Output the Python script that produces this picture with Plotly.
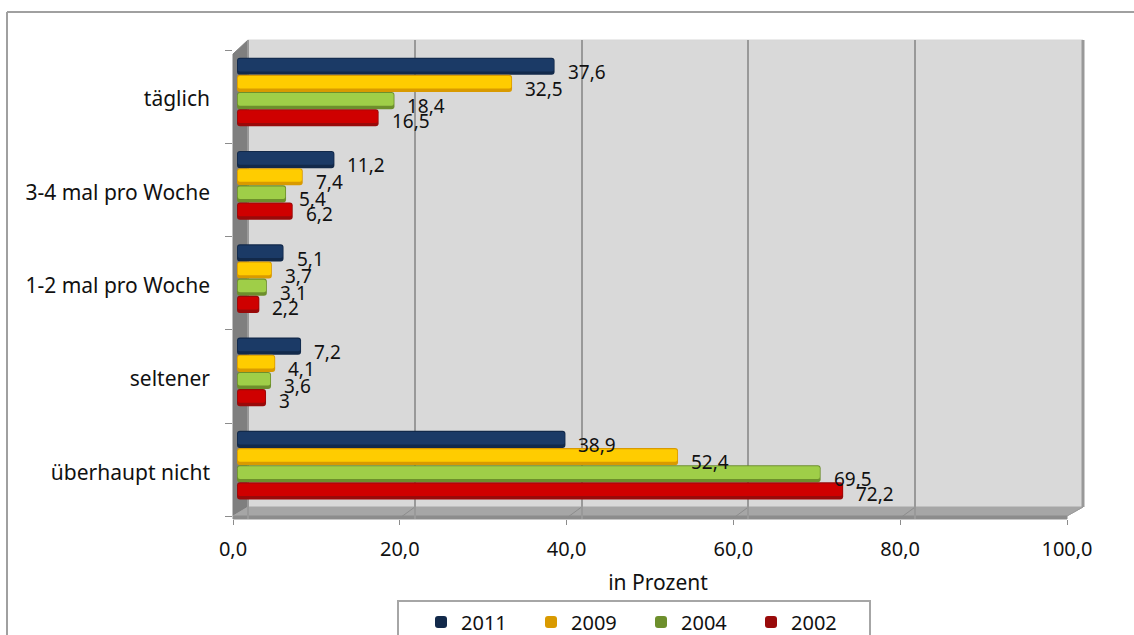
import plotly.graph_objects as go

categories = ["täglich", "3-4 mal pro Woche", "1-2 mal pro Woche", "seltener", "überhaupt nicht"]
years = ["2011", "2009", "2004", "2002"]
v2011 = [37.6, 11.2, 5.1, 7.2, 38.9]
v2009 = [32.5, 7.4, 3.7, 4.1, 52.4]
v2004 = [18.4, 5.4, 3.1, 3.6, 69.5]
v2002 = [16.5, 6.2, 2.2, 3.0, 72.2]
label2011 = ["37,6", "11,2", "5,1", "7,2", "38,9"]
label2009 = ["32,5", "7,4", "3,7", "4,1", "52,4"]
label2004 = ["18,4", "5,4", "3,1", "3,6", "69,5"]
label2002 = ["16,5", "6,2", "2,2", "3", "72,2"]
x_ticks = [0, 20, 40, 60, 80, 100]
x_ticktext = ["0,0", "20,0", "40,0", "60,0", "80,0", "100,0"]

values = [v2011, v2009, v2004, v2002]
labels = [label2011, label2009, label2004, label2002]
dark = ["#12294a", "#d99a00", "#6d8f2c", "#990a0a"]
light = ["#1b3a66", "#ffcc00", "#9fce48", "#cf0000"]
FONT = "Noto Sans"
FS = 19
W, H = 1134, 635
L, R, T, B = 233, 1083, 40, 519      # plot box in pixels
SCALE = 8.34                         # pixels per percent
STEP = 93.3                          # pixels per category


def px(x):
    return x / W


def py(y):
    return 1 - y / H


def poly(points, fill, line=None):
    path = "M " + " L ".join(f"{px(x):.5f},{py(y):.5f}" for x, y in points) + " Z"
    return dict(type="path", xref="paper", yref="paper", path=path, fillcolor=fill,
                line=dict(color=line or fill, width=1), layer="below")


fig = go.Figure()
BAR_OFF = [-0.368, -0.184, 0.0, 0.184]
for i, year in enumerate(years):
    shown = [v + 0.48 for v in values[i]]
    fig.add_bar(name=year, y=categories, x=shown, base=-0.48, orientation="h",
                offset=BAR_OFF[i], width=0.184, marker=dict(color=dark[i], line=dict(width=0), cornerradius=3),
                hoverinfo="skip", xaxis="x", yaxis="y", showlegend=True)
    fig.add_bar(y=categories, x=[v + 0.28 for v in values[i]], base=-0.38, orientation="h",
                offset=BAR_OFF[i] + 0.012, width=0.135, marker=dict(color=light[i], line=dict(width=0), cornerradius=2),
                hoverinfo="skip", xaxis="x", yaxis="y", showlegend=False)

# helper traces so that the tick axis and the back-wall grid axis are drawn
fig.add_scatter(x=x_ticks, y=[0] * 6, xaxis="x2", yaxis="y2", mode="markers", marker=dict(opacity=0), showlegend=False, hoverinfo="skip")
fig.add_scatter(x=x_ticks, y=[0] * 6, xaxis="x3", yaxis="y2", mode="markers", marker=dict(opacity=0), showlegend=False, hoverinfo="skip")

LABEL_DY = [-20, -3, 14, 29]
annotations = []
for i in range(4):
    for j, c in enumerate(categories):
        annotations.append(dict(x=values[i][j], y=c, xref="x", yref="y", text=labels[i][j], showarrow=False,
                                xanchor="left", yanchor="middle", xshift=11, yshift=-LABEL_DY[i],
                                font=dict(family=FONT, size=FS, color="#111111")))


def line(x0, y0, x1, y1, color, width):
    return dict(type="line", xref="paper", yref="paper", x0=px(x0), x1=px(x1), y0=py(y0), y1=py(y1),
                line=dict(color=color, width=width), layer="below")


shapes = [
    line(7, 12, 1134, 12, "#a0a0a0", 2),
    line(7, 12, 7, 635, "#a0a0a0", 2),
    poly([(248, T), (R, T), (R, 507), (248, 507)], "#d9d9d9"),
    poly([(233, 54), (248, T), (248, 507), (233, 516)], "#7f7f7f"),
    poly([(233, 516), (248, 507), (R, 507), (1067, 516)], "#a6a6a6"),
    poly([(233, 516), (1067, 516), (1067, 519), (233, 519)], "#8c8c8c"),
    line(R, T, R, 507, "#999999", 3),
    line(1067, 516, R, 507, "#9a9a9a", 1),
    dict(type="rect", xref="paper", yref="paper", x0=px(398), x1=px(870), y0=py(601), y1=py(660),
         fillcolor="white", line=dict(color="#a6a6a6", width=2), layer="below"),
]
for t in x_ticks[1:-1]:
    shapes.append(line(233 + t * SCALE, 518, 248 + t * SCALE, 507, "#8c8c8c", 1))

fig.update_layout(
    width=W, height=H, margin=dict(l=0, r=0, t=0, b=0, autoexpand=False),
    paper_bgcolor="white", plot_bgcolor="rgba(0,0,0,0)",
    barmode="overlay", font=dict(family=FONT, size=FS, color="#111111"),
    shapes=shapes, annotations=annotations,
    legend=dict(orientation="h", x=px(421), xanchor="left", y=py(622), yanchor="middle",
                entrywidth=65, entrywidthmode="pixels", traceorder="normal",
                bgcolor="rgba(0,0,0,0)", font=dict(family=FONT, size=20), itemclick=False),
    xaxis=dict(domain=[px(L), px(R)], range=[(L - 241) / SCALE, (R - 241) / SCALE], visible=False, anchor="y", automargin=False),
    xaxis2=dict(overlaying="x", anchor="y2", side="bottom", range=[0, (R - L) / SCALE],
                tickvals=x_ticks, ticktext=x_ticktext, ticks="outside", ticklen=5, tickcolor="#8c8c8c",
                tickfont=dict(family=FONT, size=20), showgrid=False, zeroline=False,
                showline=False, ticklabelstandoff=7, automargin=False,
                title=dict(text="in Prozent", font=dict(family=FONT, size=21), standoff=14)),
    xaxis3=dict(overlaying="x", anchor="y2", range=[(L - 248) / SCALE, (R - 248) / SCALE],
                tickvals=x_ticks, showticklabels=False, ticks="", showgrid=True, automargin=False,
                gridcolor="#999999", gridwidth=2, zeroline=False, showline=False),
    yaxis=dict(domain=[py(B), py(T)], range=[(B - 92) / STEP, (T - 92) / STEP], type="category",
               categoryorder="array", categoryarray=categories, ticks="", ticklen=0, showgrid=False, automargin=False,
               zeroline=False, showline=False, ticklabelstandoff=22, ticklabelshift=-7, tickfont=dict(family=FONT, size=21), anchor="x"),
    yaxis2=dict(domain=[py(B), py(T)], overlaying="y", anchor="x2", side="left", automargin=False,
                range=[(B - 50) / STEP, (T - 50) / STEP], tickvals=[0, 1, 2, 3, 4, 5], showticklabels=False,
                ticks="outside", ticklen=7, tickcolor="#8c8c8c", showgrid=False, zeroline=False, showline=False),
)
fig.write_html("out.html", post_script="document.body.style.margin='0';", config=dict(displayModeBar=False))
